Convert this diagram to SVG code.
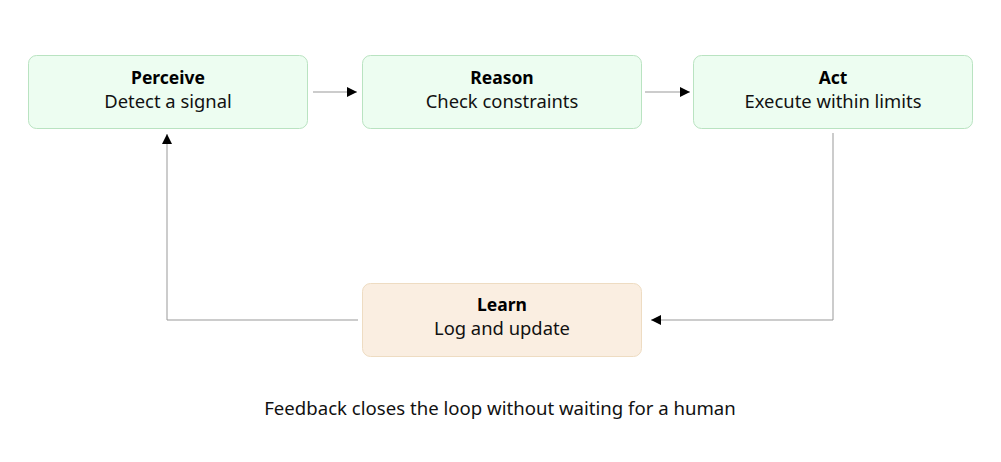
<svg xmlns="http://www.w3.org/2000/svg" width="1001" height="462" viewBox="0 0 1001 462">
<style>
.g{fill:#edfdf1;stroke:#b9e3c1;stroke-width:1}
.o{fill:#faeee1;stroke:#eedcc2;stroke-width:1}
.t{font-family:"Noto Sans","Open Sans",sans-serif;font-size:17.5px;font-weight:bold;fill:#000;text-anchor:middle}
.s{font-family:"Noto Sans","Open Sans",sans-serif;font-size:18.4px;fill:#111;text-anchor:middle}
.c{fill:none;stroke:#999;stroke-width:1}
.cap{font-family:"Noto Sans","Open Sans",sans-serif;font-size:18.6px;fill:#111;text-anchor:middle}
</style>
<defs>
<marker id="a" viewBox="0 0 10 10" refX="10" refY="5" markerWidth="15" markerHeight="10" markerUnits="userSpaceOnUse" orient="auto"><path d="M0,0L10,5L0,10z" fill="#000"/></marker>
</defs>
<rect width="1001" height="462" fill="#fff"/>
<g id="connectors">
<path class="c" d="M313,92H357" marker-end="url(#a)"/>
<path class="c" d="M645,92H690" marker-end="url(#a)"/>
<path class="c" d="M833,133V320H651" marker-end="url(#a)"/>
<path class="c" d="M358,320H167V134" marker-end="url(#a)"/>
</g>
<g id="perceive"><rect class="g" x="28.5" y="55.5" width="279" height="73" rx="8"/><text class="t" x="168" y="84">Perceive</text><text class="s" x="168" y="108">Detect a signal</text></g>
<g id="reason"><rect class="g" x="362.5" y="55.5" width="279" height="73" rx="8"/><text class="t" x="502" y="84">Reason</text><text class="s" x="502" y="108">Check constraints</text></g>
<g id="act"><rect class="g" x="693.5" y="55.5" width="279" height="73" rx="8"/><text class="t" x="833" y="84">Act</text><text class="s" x="833" y="108">Execute within limits</text></g>
<g id="learn"><rect class="o" x="362.5" y="283.5" width="279" height="73" rx="8"/><text class="t" x="502" y="311">Learn</text><text class="s" x="502" y="335">Log and update</text></g>
<text class="cap" x="500" y="415">Feedback closes the loop without waiting for a human</text>
</svg>
